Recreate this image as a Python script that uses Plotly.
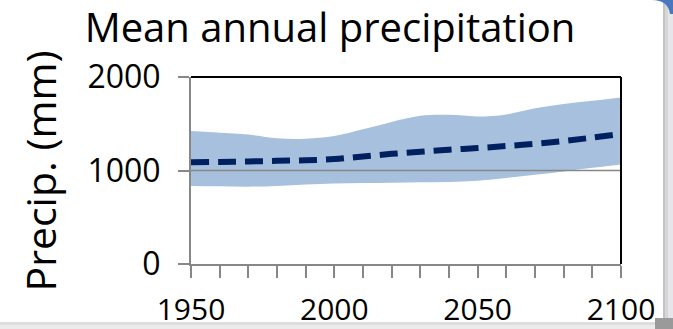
import plotly.graph_objects as go

# Decadal years and precipitation values (mm)
years = [1950, 1960, 1970, 1980, 1990, 2000, 2010, 2020, 2030, 2040,
         2050, 2060, 2070, 2080, 2090, 2100]
upper = [1423, 1405, 1385, 1345, 1340, 1368, 1440, 1520, 1585, 1595,
         1578, 1600, 1665, 1712, 1745, 1780]
lower = [835, 832, 827, 835, 850, 860, 866, 870, 873, 876,
         890, 920, 955, 990, 1030, 1065]
mean = [1088, 1092, 1097, 1103, 1110, 1122, 1150, 1178, 1200, 1222,
        1240, 1262, 1285, 1315, 1352, 1392]

x_ticks = [1950, 2000, 2050, 2100]
y_ticks = [0, 1000, 2000]

FONT = "Open Sans"
BAND = "#A7C0DE"
NAVY = "#002060"
GREY = "#878787"

W, H = 673, 329
ML, MR, MT, MB = 191, 52, 77, 65
PW, PH = W - ML - MR, H - MT - MB


def px(x):
    """Page pixel column -> paper x."""
    return (x - ML) / PW


def py(y):
    """Page pixel row -> paper y."""
    return (H - MB - y) / PH


fig = go.Figure()

# Model range band (lower edge, then fill up to the upper edge)
fig.add_trace(go.Scatter(
    x=years, y=lower, mode="lines", line=dict(width=0, shape="spline"),
    hoverinfo="skip", showlegend=False))
fig.add_trace(go.Scatter(
    x=years, y=upper, mode="lines", line=dict(width=0, shape="spline"),
    fill="tonexty", fillcolor=BAND, hoverinfo="skip", showlegend=False))

# Ensemble mean
fig.add_trace(go.Scatter(
    x=years, y=mean, mode="lines",
    line=dict(color=NAVY, width=6, dash="18px,9px", shape="spline"),
    showlegend=False))

fig.update_layout(
    width=W, height=H,
    margin=dict(l=ML, r=MR, t=MT, b=MB),
    paper_bgcolor="white", plot_bgcolor="white",
    font=dict(family=FONT, color="black"),
    title=dict(text="Mean annual precipitation", font=dict(size=40, family=FONT),
               x=330 / W, xanchor="center", xref="container",
               y=0.915, yanchor="middle", yref="container"),
    showlegend=False,
)

fig.update_xaxes(
    range=[x_ticks[0], x_ticks[-1]], tickvals=x_ticks, automargin=False,
    showline=True, linecolor=GREY, linewidth=2,
    ticks="outside", ticklen=12, tickwidth=1.5, tickcolor=GREY,
    tickfont=dict(size=30, family=FONT), showgrid=False, zeroline=False,
    minor=dict(dtick=10, tick0=1950, ticks="outside", ticklen=12,
               tickwidth=1.5, tickcolor=GREY, showgrid=False),
    ticklabelstandoff=6,
)
fig.update_yaxes(
    range=[y_ticks[0], y_ticks[-1]], tickvals=y_ticks, automargin=False,
    showline=True, linecolor=GREY, linewidth=2,
    ticks="outside", ticklen=11, tickwidth=1.5, tickcolor=GREY,
    tickfont=dict(size=32, family=FONT), showgrid=False, zeroline=False,
    ticklabelstandoff=11,
)

# Gridline at the middle tick, drawn over the band
fig.add_shape(type="line", xref="paper", yref="y", x0=0, x1=1,
              y0=y_ticks[1], y1=y_ticks[1], line=dict(color=GREY, width=1.5),
              layer="above")
# Black frame on the top and right edges of the plot area
fig.add_shape(type="line", xref="paper", yref="paper", x0=0, x1=1, y0=1, y1=1,
              line=dict(color="black", width=2), layer="above")
fig.add_shape(type="line", xref="paper", yref="paper", x0=1, x1=1, y0=0, y1=1,
              line=dict(color="black", width=2), layer="above")

# Soft grey slide edge along the right and bottom of the page (behind text)
edge = [
    (663, 0, 665, H, "#c4c4c4"),
    (665, 0, 668, H, "#d6d6d6"),
    (668, 0, W, H, "#e4e6ea"),
    (0, 322, 663, 325, "#dedede"),
    (0, 325, 663, H, "#ebebeb"),
    (655, 318, W, H, "#9a9a9a"),
]
for x0, y0, x1, y1, c in edge:
    fig.add_shape(type="rect", xref="paper", yref="paper",
                  x0=px(x0), x1=px(x1), y0=py(y1), y1=py(y0),
                  line=dict(width=0), fillcolor=c, layer="below")
# Blue corner of the slide at the top right
fig.add_shape(type="path", xref="paper", yref="paper",
              path=(f"M {px(652)},{py(0)} Q {px(668)},{py(0)} {px(670)},{py(14)} "
                    f"L {px(W)},{py(14)} L {px(W)},{py(0)} Z"),
              line=dict(width=0), fillcolor="#4a78bf", layer="below")

# Rotated y-axis title
fig.add_annotation(text="Precip. (mm)", textangle=-90, showarrow=False,
                   xref="paper", yref="paper",
                   x=px(39), y=py(171.5),
                   xanchor="center", yanchor="middle",
                   font=dict(size=41, family=FONT, color="black"))

fig.write_html("out.html")
